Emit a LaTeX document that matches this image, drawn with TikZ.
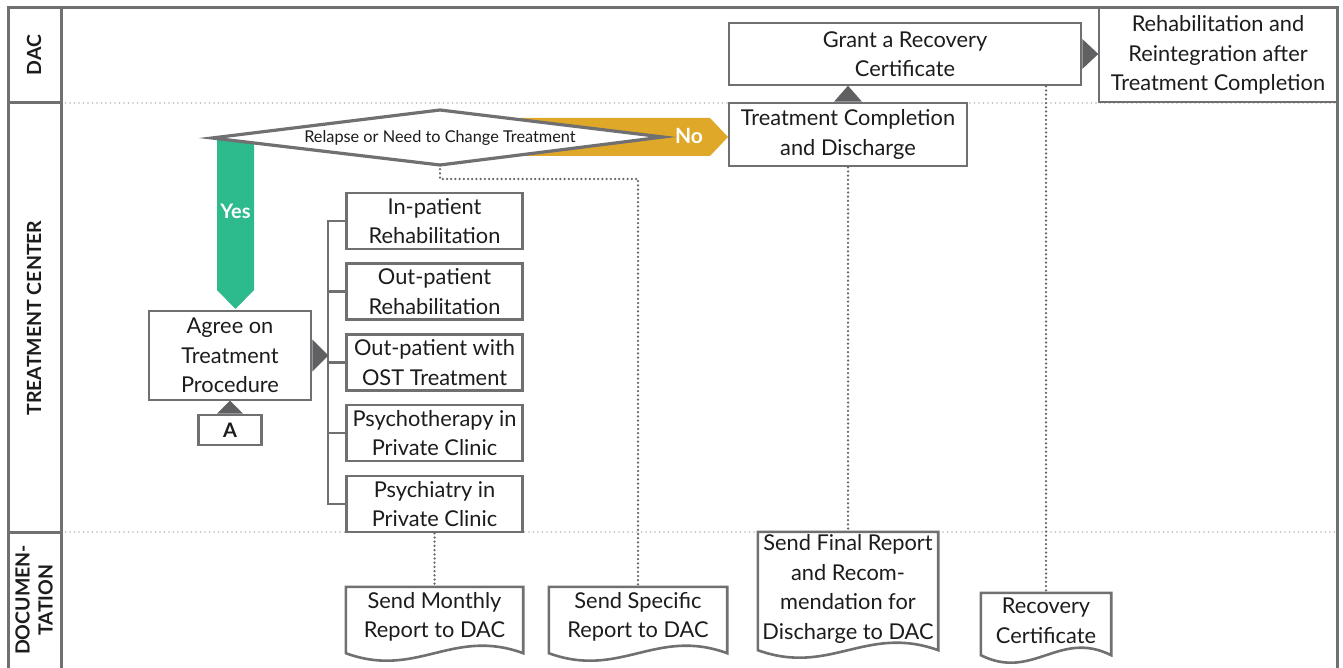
\documentclass[tikz,border=0pt]{standalone}
\usepackage{fontspec}
\setmainfont{Lato}
\usetikzlibrary{calc}
\definecolor{frameg}{RGB}{112,112,115}
\definecolor{tipg}{RGB}{96,96,99}
\definecolor{laneg}{RGB}{185,185,188}
\definecolor{txt}{RGB}{30,27,28}
\definecolor{yesg}{RGB}{45,187,142}
\definecolor{noy}{RGB}{224,168,40}
\tikzset{
  box/.style={draw=frameg, line width=2.6pt, fill=white, text=txt, align=center, inner sep=0pt},
  doc/.style={text=txt, align=center, inner sep=0pt},
  docline/.style={draw=frameg, line width=2.6pt, fill=white},
  link/.style={draw=frameg!90!black, line width=2.5pt, line cap=round, dash pattern=on 0pt off 4.2pt},
  lanesep/.style={draw=laneg, line width=1.6pt, line cap=round, dash pattern=on 0pt off 4.5pt},
  branch/.style={draw=frameg, line width=2.4pt},
  lanelabel/.style={rotate=90, text=txt, align=center, font=\bfseries\fontsize{19.5}{23}\selectfont},
}
\newcommand\docpath[1]{\draw[docline] (#1.south west) -- (#1.north west) -- (#1.north east) -- (#1.south east)
  .. controls ($(#1.south east)!0.4!(#1.south west)+(0,-26)$) and ($(#1.south west)!0.4!(#1.south east)+(0,26)$) .. (#1.south west) -- cycle;}
\begin{document}
\begin{tikzpicture}[x=1pt, y=-1pt, font=\fontsize{21.8}{29.5}\selectfont]
\useasboundingbox (0,0) rectangle (1343,668);

% lanes
\draw[lanesep] (61,103) -- (1337,103);
\draw[lanesep] (61,532) -- (1337,532);
\draw[frameg, line width=3pt] (8,668) -- (8,8) -- (1337,8) -- (1337,668);
\draw[frameg, line width=3pt] (61,8) -- (61,668);
\draw[frameg, line width=3pt] (8,103) -- (61,103) (8,532) -- (61,532);
\node[lanelabel] (dac) at (34,55) {DAC};
\node[lanelabel] (center) at (34,318) {TREATMENT CENTER};
\node[lanelabel] (docu) at (34,600) {DOCUMEN-\\TATION};

% yes / no arrows under the decision
\fill[yesg] (217,138) -- (254,138) -- (254,290) -- (235.5,309) -- (217,290) -- cycle;
\node[text=white, font=\bfseries\fontsize{20}{22}\selectfont] (yes) at (235.5,211) {Yes};
\fill[noy] (520,118) -- (710,118) -- (728,137) -- (710,156) -- (520,156) -- cycle;
\node[text=white, font=\bfseries\fontsize{21}{22}\selectfont] (no) at (689,136) {No};

\coordinate (dl) at (212,138);
\coordinate (dt) at (440,110);
\coordinate (dr) at (663,137);
\coordinate (db) at (440,165);
\draw[frameg, fill=white, line width=3.2pt] (dl) -- (dt) -- (dr) -- (db) -- cycle;
\node[text=txt, font=\fontsize{16.3}{18}\selectfont] (relapse) at (440,137.5) {Relapse or Need to Change Treatment};

% treatment center
\node[box, minimum width=162pt, minimum height=89pt] (agree) at (230,355.5) {Agree on\\Treatment\\Procedure};
\node[box, minimum width=63pt, minimum height=30pt, font=\bfseries\fontsize{20}{22}\selectfont] (A) at (230,430) {A};
\node[box, minimum width=176pt, minimum height=56pt] (opt1) at (434.5,221) {In-patient\\Rehabilitation};
\node[box, minimum width=176pt, minimum height=56pt] (opt2) at (434.5,291.5) {Out-patient\\Rehabilitation};
\node[box, minimum width=176pt, minimum height=56pt] (opt3) at (434.5,362.5) {Out-patient with\\OST Treatment};
\node[box, minimum width=176pt, minimum height=56pt] (opt4) at (434.5,433) {Psychotherapy in\\Private Clinic};
\node[box, minimum width=176pt, minimum height=56pt] (opt5) at (434.5,504) {Psychiatry in\\Private Clinic};
\node[box, minimum width=238pt, minimum height=63pt] (tc) at (848,134.5) {Treatment Completion\\and Discharge};

% dac
\node[box, minimum width=352pt, minimum height=62pt] (grant) at (905,54) {Grant a Recovery\\Certificate};
\node[box, minimum width=238pt, minimum height=94pt] (rehab) at (1218,55) {Rehabilitation and\\Reintegration after\\Treatment Completion};

% documentation
\node[doc, minimum width=177pt, minimum height=66pt] (monthly) at (434.5,620) {};
\node[doc, minimum width=178pt, minimum height=66pt] (specific) at (638,620) {};
\node[doc, minimum width=180pt, minimum height=118pt] (final) at (848,591) {};
\node[doc, minimum width=130pt, minimum height=62pt] (recov) at (1046,624) {};
\foreach \d in {monthly,specific,final,recov} {\docpath{\d}}
\node[doc] (monthlyt) at ([yshift=3pt]monthly) {Send Monthly\\Report to DAC};
\node[doc] (specifict) at ([yshift=3pt]specific) {Send Specific\\Report to DAC};
\node[doc] (finalt) at ([yshift=2pt]final) {Send Final Report\\and Recom-\\mendation for\\Discharge to DAC};
\node[doc] (recovt) at ([yshift=3pt]recov) {Recovery\\Certificate};

% connectors
\coordinate (spine) at (328,362.5);
\foreach \i in {1,...,5} {\draw[branch] (opt\i.west) -| (spine);}
\fill[tipg] ($(agree.east)+(0,-16)$) -- ($(agree.east)+(16,0)$) -- ($(agree.east)+(0,16)$) -- cycle;
\fill[tipg] ($(A.north)+(-13,0)$) -- ($(A.north)+(0,-13)$) -- ($(A.north)+(13,0)$) -- cycle;
\fill[tipg] ($(tc.north)+(-14,0)$) -- ($(tc.north)+(0,-16)$) -- ($(tc.north)+(14,0)$) -- cycle;
\fill[tipg] ($(grant.east)+(0,-15)$) -- ($(grant.east)+(16,0)$) -- ($(grant.east)+(0,15)$) -- cycle;

\draw[link] (db) -- ++(0,14) -| (specific.north);
\draw[link] (opt5.south) -- (monthly.north);
\draw[link] (tc.south) -- (final.north);
\draw[link] (recov.north |- grant.south) -- (recov.north);
\end{tikzpicture}
\end{document}
